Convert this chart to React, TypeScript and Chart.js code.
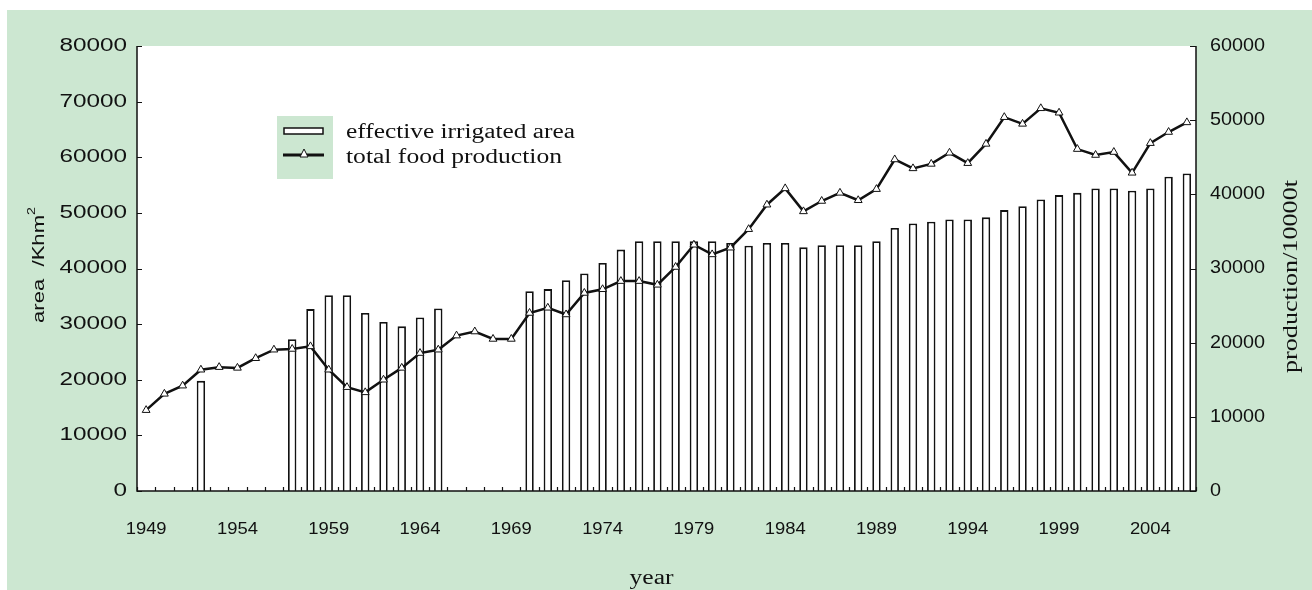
import React, { useEffect, useRef } from "react";
import { Chart, registerables } from "chart.js";

Chart.register(...registerables);

const years = [
  "1949", "1950", "1951", "1952", "1953", "1954", "1955", "1956", "1957", "1958",
  "1959", "1960", "1961", "1962", "1963", "1964", "1965", "1966", "1967", "1968",
  "1969", "1970", "1971", "1972", "1973", "1974", "1975", "1976", "1977", "1978",
  "1979", "1980", "1981", "1982", "1983", "1984", "1985", "1986", "1987", "1988",
  "1989", "1990", "1991", "1992", "1993", "1994", "1995", "1996", "1997", "1998",
  "1999", "2000", "2001", "2002", "2003", "2004", "2005", "2006",
];

// effective irrigated area (Khm2), left axis
const irrigatedArea = [
  null, null, null, 19800, null, null, null, null, 27300, 32700,
  35200, 35200, 32000, 30400, 29600, 31200, 32800, null, null, null,
  null, 35900, 36300, 37900, 39100, 41000, 43400, 44900, 44900, 44900,
  44900, 44900, 44600, 44100, 44600, 44600, 43800, 44200, 44200, 44200,
  44900, 47300, 48100, 48400, 48800, 48800, 49200, 50500, 51200, 52400,
  53200, 53600, 54400, 54400, 54000, 54400, 56500, 57100,
];

// total food production (10000 t), right axis
const foodProduction = [
  10900, 13100, 14200, 16350, 16700, 16600, 17900, 19050, 19150, 19500,
  16350, 14000, 13300, 15000, 16600, 18600, 19050, 20950, 21500, 20500,
  20500, 24000, 24700, 23800, 26700, 27200, 28300, 28300, 27800, 30200,
  33200, 31900, 32800, 35300, 38600, 40800, 37700, 39100, 40200, 39200,
  40700, 44700, 43500, 44100, 45600, 44200, 46800, 50400, 49500, 51600,
  51000, 46100, 45300, 45700, 42900, 46900, 48400, 49700,
];

const xTickLabels = ["1949", "1954", "1959", "1964", "1969", "1974", "1979", "1984", "1989", "1994", "1999", "2004"];
const leftTicks = [0, 10000, 20000, 30000, 40000, 50000, 60000, 70000, 80000];
const rightTicks = [0, 10000, 20000, 30000, 40000, 50000, 60000];

const seriesNames = ["effective irrigated area", "total food production"];
const leftTitle = "area  /Khm";
const leftTitleSup = "2";
const rightTitle = "production/10000t";
const xTitle = "year";

const GREEN = "#cce7d1";
const INK = "#111111";

function drawText(
  ctx: CanvasRenderingContext2D,
  s: string,
  x: number,
  y: number,
  font: string,
  align: CanvasTextAlign,
  sx: number,
  rot = 0,
  baseline: CanvasTextBaseline = "middle"
) {
  ctx.save();
  ctx.translate(x, y);
  if (rot) ctx.rotate(rot);
  ctx.scale(sx, 1);
  ctx.font = font;
  ctx.textAlign = align;
  ctx.textBaseline = baseline;
  ctx.fillStyle = INK;
  ctx.fillText(s, 0, 0);
  ctx.restore();
}

function fitScale(ctx: CanvasRenderingContext2D, s: string, font: string, target: number) {
  ctx.save();
  ctx.font = font;
  const w = ctx.measureText(s).width;
  ctx.restore();
  return target / w;
}

const decorPlugin = {
  id: "decor",
  beforeDraw(chart: any) {
    const ctx: CanvasRenderingContext2D = chart.ctx;
    const { left, right, top, bottom } = chart.chartArea;
    ctx.save();
    ctx.fillStyle = "#ffffff";
    ctx.fillRect(0, 0, chart.width, chart.height);
    ctx.fillStyle = GREEN;
    ctx.fillRect(7, 10, chart.width - 7, chart.height - 10);
    ctx.fillStyle = "#ffffff";
    ctx.fillRect(left, top, right - left, bottom - top);
    ctx.restore();
  },
  afterDatasetsDraw(chart: any) {
    const ctx: CanvasRenderingContext2D = chart.ctx;
    const { left, right, top, bottom } = chart.chartArea;
    const xs = chart.scales.x;
    const yl = chart.scales.y;
    const yr = chart.scales.y1;

    ctx.save();
    ctx.strokeStyle = INK;
    ctx.lineWidth = 1.5;
    // axis lines
    ctx.beginPath();
    ctx.moveTo(left, top);
    ctx.lineTo(left, bottom);
    ctx.lineTo(right, bottom);
    ctx.lineTo(right, top);
    ctx.stroke();

    // left ticks (inward)
    ctx.lineWidth = 1.2;
    ctx.beginPath();
    leftTicks.forEach((v) => {
      const y = Math.round(yl.getPixelForValue(v)) + 0.5;
      ctx.moveTo(left, y);
      ctx.lineTo(left + 5, y);
    });
    rightTicks.forEach((v) => {
      const y = Math.round(yr.getPixelForValue(v)) + 0.5;
      ctx.moveTo(right, y);
      ctx.lineTo(right - 6, y);
    });
    // x ticks at category boundaries (inward)
    const n = years.length;
    const w = (right - left) / n;
    for (let i = 0; i <= n; i++) {
      const x = Math.round(left + i * w) + 0.5;
      ctx.moveTo(x, bottom);
      ctx.lineTo(x, bottom - 4);
    }
    ctx.stroke();
    ctx.restore();

    // tick labels
    const tickFont = '18px "Liberation Sans"';
    leftTicks.forEach((v) => {
      drawText(ctx, String(v), left - 10, yl.getPixelForValue(v), tickFont, "right", 1.35);
    });
    rightTicks.forEach((v) => {
      drawText(ctx, String(v), right + 14, yr.getPixelForValue(v), tickFont, "left", 1.1);
    });
    const yearFont = '16px "Liberation Sans"';
    xTickLabels.forEach((lab) => {
      const idx = years.indexOf(lab);
      drawText(ctx, lab, xs.getPixelForValue(idx), bottom + 39, yearFont, "center", 1.15);
    });

    // axis titles
    const serif = '20px "Liberation Serif"';
    drawText(ctx, xTitle, (left + right) / 2 - 15, bottom + 93, serif, "center", fitScale(ctx, xTitle, serif, 44), 0, "alphabetic");
    drawText(ctx, rightTitle, right + 96, (top + bottom) / 2 + 8, serif, "center", fitScale(ctx, rightTitle, serif, 193), -Math.PI / 2);

    // left title with superscript
    {
      const f1 = '17px "Liberation Sans"';
      const f2 = '11px "Liberation Sans"';
      ctx.save();
      ctx.font = f1;
      const w1 = ctx.measureText(leftTitle).width;
      ctx.font = f2;
      const w2 = ctx.measureText(leftTitleSup).width;
      const sx = 116 / (w1 + w2);
      ctx.translate(38, 265);
      ctx.rotate(-Math.PI / 2);
      ctx.scale(sx, 1);
      ctx.fillStyle = INK;
      ctx.textBaseline = "middle";
      ctx.textAlign = "left";
      ctx.font = f1;
      ctx.fillText(leftTitle, -(w1 + w2) / 2, 1);
      ctx.font = f2;
      ctx.fillText(leftTitleSup, -(w1 + w2) / 2 + w1, -6);
      ctx.restore();
    }

    // legend
    ctx.save();
    ctx.fillStyle = GREEN;
    ctx.fillRect(277, 116, 56, 63);
    ctx.fillStyle = "#ffffff";
    ctx.strokeStyle = INK;
    ctx.lineWidth = 1.5;
    ctx.fillRect(284, 128, 39, 6);
    ctx.strokeRect(284, 128, 39, 6);
    ctx.lineWidth = 3;
    ctx.beginPath();
    ctx.moveTo(283, 155);
    ctx.lineTo(324, 155);
    ctx.stroke();
    ctx.lineWidth = 1;
    ctx.fillStyle = "#ffffff";
    ctx.beginPath();
    ctx.moveTo(304, 149);
    ctx.lineTo(308, 157);
    ctx.lineTo(300, 157);
    ctx.closePath();
    ctx.fill();
    ctx.stroke();
    ctx.restore();
    drawText(ctx, seriesNames[0], 346, 138, serif, "left", fitScale(ctx, seriesNames[0], serif, 229), 0, "alphabetic");
    drawText(ctx, seriesNames[1], 346, 163, serif, "left", fitScale(ctx, seriesNames[1], serif, 216), 0, "alphabetic");
  },
};

export default function App() {
  const ref = useRef<HTMLCanvasElement | null>(null);

  useEffect(() => {
    const canvas = ref.current;
    if (!canvas) return;
    const chart = new Chart(canvas, {
      type: "bar",
      data: {
        labels: years,
        datasets: [
          {
            type: "line",
            label: seriesNames[1],
            data: foodProduction,
            yAxisID: "y1",
            borderColor: INK,
            borderWidth: 2.5,
            tension: 0,
            pointStyle: "triangle",
            pointRadius: 4.5,
            pointBackgroundColor: "#ffffff",
            pointBorderColor: INK,
            pointBorderWidth: 1,
            order: 1,
          } as any,
          {
            type: "bar",
            label: seriesNames[0],
            data: irrigatedArea,
            yAxisID: "y",
            backgroundColor: "#ffffff",
            borderColor: INK,
            borderWidth: 1.8,
            barPercentage: 0.46,
            categoryPercentage: 1,
            order: 2,
          } as any,
        ],
      },
      options: {
        animation: false,
        responsive: false,
        devicePixelRatio: 1,
        layout: { padding: { left: 137, right: 1312 - 1196, top: 46, bottom: 590 - 491 } },
        plugins: { legend: { display: false }, tooltip: { enabled: false } },
        scales: {
          x: { display: false, offset: true },
          y: { display: false, min: 0, max: 80000 },
          y1: { display: false, min: 0, max: 60000, position: "right" },
        },
      },
      plugins: [decorPlugin],
    });
    return () => chart.destroy();
  }, []);

  return (
    <div style={{ position: "fixed", left: 0, top: 0, width: 1312, height: 590, background: "#ffffff" }}>
      <canvas ref={ref} width={1312} height={590} style={{ display: "block", width: 1312, height: 590 }} />
    </div>
  );
}
